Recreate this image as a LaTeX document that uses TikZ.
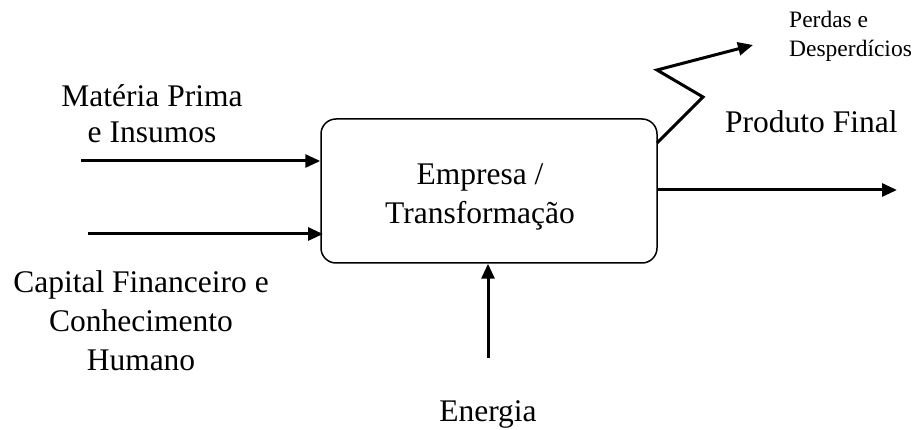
\documentclass[tikz,border=0pt]{standalone}
\usepackage{fontspec}
\setmainfont{Liberation Serif}
\usetikzlibrary{arrows.meta}
\begin{document}
\begin{tikzpicture}[x=1pt,y=-1pt,
  bigtext/.style={font=\fontsize{31.5}{37}\selectfont, inner sep=0pt},
  smalltext/.style={font=\fontsize{23.5}{29}\selectfont, inner sep=0pt},
  flow/.style={line width=3pt, -{Triangle[length=15pt,width=13pt]}},
  process/.style={draw, line width=1.5pt, rounded corners=15pt}]
\useasboundingbox (0,0) rectangle (914,430);

% central process box
\node[process, minimum width=336pt, minimum height=144pt] (box) at (489,191) {};
\node[bigtext, font=\fontsize{31.5}{39}\selectfont, align=center, anchor=base] (core) at (480,224) {Empresa /\\Transformação};

% inputs on the left
\coordinate (in1) at (81,161);
\coordinate (in2) at (88,234);
\coordinate (tip2) at (323,234);
\draw[flow] (in1) -- (box.west |- in1);
\draw[flow] (in2) -- (tip2);
\node[bigtext, font=\fontsize{31.5}{36}\selectfont, align=center, anchor=base] (mat) at (152,143) {Matéria Prima\\e Insumos};
\node[bigtext, font=\fontsize{31.5}{39}\selectfont, align=center, anchor=base] (cap) at (141,371) {Capital Financeiro e\\Conhecimento\\Humano};

% energy from below
\coordinate (en) at (488,358);
\draw[flow] (en) -- (en |- box.south);
\node[bigtext, anchor=base] (energia) at (488,422) {Energia};

% output
\coordinate (out) at (897,190);
\draw[flow] (box.east |- out) -- (out);
\node[bigtext, anchor=base west] (prod) at (725,133) {Produto Final};

% losses, zig-zag
\coordinate (z0) at (657,143);
\coordinate (z1) at (703,97);
\coordinate (z2) at (657,70);
\coordinate (z3) at (753,45);
\draw[flow] (z0) -- (z1) -- (z2) -- (z3);
\node[smalltext, align=left, anchor=base west] (perdas) at (789,57) {Perdas e\\Desperdícios};
\end{tikzpicture}
\end{document}
